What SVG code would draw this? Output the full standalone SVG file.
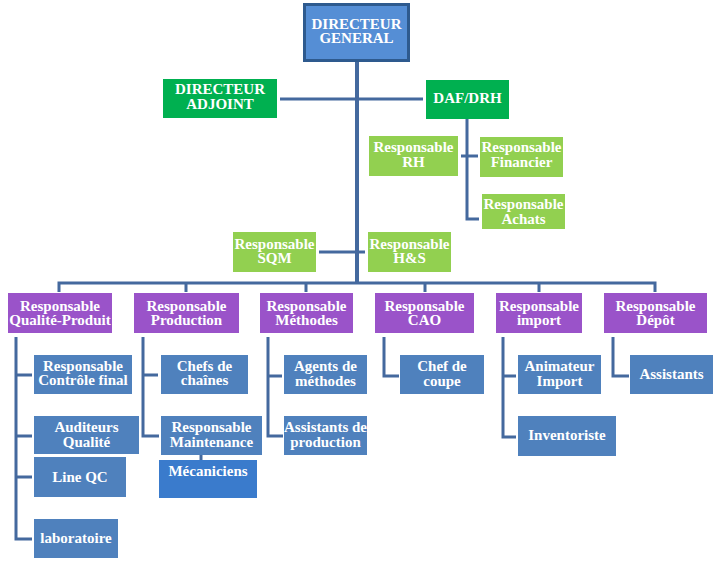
<svg xmlns="http://www.w3.org/2000/svg" width="724" height="561" viewBox="0 0 724 561">
<style>
.t{font-family:"Liberation Serif","Times New Roman",serif;font-weight:bold;font-size:15px;fill:#fff;text-anchor:middle}
.ln{stroke:#44699E;stroke-width:3;fill:none}
.top{fill:#558ED5;stroke:#2E5A8E;stroke-width:3}
.g1{fill:#00B050}
.g2{fill:#92D050}
.pu{fill:#9A53C9}
.bl{fill:#4F81BD}
.bl2{fill:#3A7BCC}
</style>
<rect width="724" height="561" fill="#fff"/>
<g id="connectors">
<path class="ln" style="stroke-width:4" d="M357 61V283"/>
<path class="ln" d="M280 99H423"/>
<path class="ln" d="M467 119V219H479"/>
<path class="ln" d="M461 156H478"/>
<path class="ln" d="M319 252H365"/>
<path class="ln" d="M59 292V283H655V292M186 283V292M306 283V292M425 283V292M539 283V292"/>
<path class="ln" d="M16 337V539H32M16 375H32M16 436H32M16 477H32"/>
<path class="ln" d="M143 337V436H159M143 375H158"/>
<path class="ln" d="M201 454V460"/>
<path class="ln" d="M268 337V436H283M268 376H282"/>
<path class="ln" d="M384 337V376H399"/>
<path class="ln" d="M503 337V437H516M503 376H516"/>
<path class="ln" d="M613 337V376H629"/>
</g>
<g id="dg"><rect class="top" x="304.5" y="4.5" width="104" height="56"/><text class="t" x="356.5" y="29">DIRECTEUR</text><text class="t" x="356.5" y="43">GENERAL</text></g>
<g id="adjoint"><rect class="g1" x="163" y="79" width="114" height="39"/><text class="t" x="220" y="94">DIRECTEUR</text><text class="t" x="220" y="109">ADJOINT</text></g>
<g id="dafdrh"><rect class="g1" x="426" y="80" width="83" height="39"/><text class="t" x="467.5" y="103">DAF/DRH</text></g>
<g id="rh"><rect class="g2" x="369" y="136" width="89" height="40"/><text class="t" x="413.5" y="152">Responsable</text><text class="t" x="413.5" y="167">RH</text></g>
<g id="financier"><rect class="g2" x="480" y="137" width="83" height="40"/><text class="t" x="521.5" y="152">Responsable</text><text class="t" x="521.5" y="167">Financier</text></g>
<g id="achats"><rect class="g2" x="482" y="194" width="83" height="35"/><text class="t" x="523.5" y="209">Responsable</text><text class="t" x="523.5" y="224">Achats</text></g>
<g id="sqm"><rect class="g2" x="233" y="232" width="83" height="40"/><text class="t" x="274.5" y="249">Responsable</text><text class="t" x="274.5" y="263">SQM</text></g>
<g id="hs"><rect class="g2" x="368" y="232" width="83" height="40"/><text class="t" x="409.5" y="249">Responsable</text><text class="t" x="409.5" y="263">H&amp;S</text></g>
<g id="qualite"><rect class="pu" x="8" y="293" width="104" height="40"/><text class="t" x="60" y="311">Responsable</text><text class="t" x="60" y="325">Qualité-Produit</text></g>
<g id="production"><rect class="pu" x="134" y="293" width="105" height="40"/><text class="t" x="186.5" y="311">Responsable</text><text class="t" x="186.5" y="325">Production</text></g>
<g id="methodes"><rect class="pu" x="260" y="293" width="93" height="40"/><text class="t" x="306.5" y="311">Responsable</text><text class="t" x="306.5" y="325">Méthodes</text></g>
<g id="cao"><rect class="pu" x="375" y="293" width="99" height="40"/><text class="t" x="424.5" y="311">Responsable</text><text class="t" x="424.5" y="325">CAO</text></g>
<g id="import"><rect class="pu" x="496" y="293" width="86" height="40"/><text class="t" x="539" y="311">Responsable</text><text class="t" x="539" y="325">import</text></g>
<g id="depot"><rect class="pu" x="604" y="293" width="103" height="40"/><text class="t" x="655.5" y="311">Responsable</text><text class="t" x="655.5" y="325">Dépôt</text></g>
<g id="controle"><rect class="bl" x="34" y="355" width="98" height="39"/><text class="t" x="83" y="371">Responsable</text><text class="t" x="83" y="385">Contrôle final</text></g>
<g id="auditeurs"><rect class="bl" x="34" y="416" width="105" height="38"/><text class="t" x="86.5" y="432">Auditeurs</text><text class="t" x="86.5" y="447">Qualité</text></g>
<g id="lineqc"><rect class="bl" x="34" y="457" width="92" height="40"/><text class="t" x="80" y="482">Line QC</text></g>
<g id="labo"><rect class="bl" x="34" y="519" width="84" height="39"/><text class="t" x="76" y="543">laboratoire</text></g>
<g id="chefs"><rect class="bl" x="161" y="355" width="87" height="39"/><text class="t" x="204.5" y="371">Chefs de</text><text class="t" x="204.5" y="385">chaînes</text></g>
<g id="maintenance"><rect class="bl" x="161" y="416" width="101" height="39"/><text class="t" x="211.5" y="432">Responsable</text><text class="t" x="211.5" y="447">Maintenance</text></g>
<g id="mecaniciens"><rect class="bl2" x="159" y="460" width="98" height="38"/><text class="t" x="208" y="476">Mécaniciens</text></g>
<g id="agents"><rect class="bl" x="284" y="355" width="83" height="39"/><text class="t" x="325.5" y="371">Agents de</text><text class="t" x="325.5" y="386">méthodes</text></g>
<g id="assistprod"><rect class="bl" x="284" y="416" width="83" height="39"/><text class="t" x="325.5" y="432">Assistants de</text><text class="t" x="325.5" y="447">production</text></g>
<g id="chefcoupe"><rect class="bl" x="400" y="355" width="84" height="39"/><text class="t" x="442" y="371">Chef de</text><text class="t" x="442" y="386">coupe</text></g>
<g id="animateur"><rect class="bl" x="518" y="355" width="83" height="39"/><text class="t" x="559.5" y="371">Animateur</text><text class="t" x="559.5" y="386">Import</text></g>
<g id="inventoriste"><rect class="bl" x="518" y="416" width="98" height="40"/><text class="t" x="567" y="440">Inventoriste</text></g>
<g id="assistants"><rect class="bl" x="630" y="355" width="83" height="39"/><text class="t" x="671.5" y="379">Assistants</text></g>
</svg>
